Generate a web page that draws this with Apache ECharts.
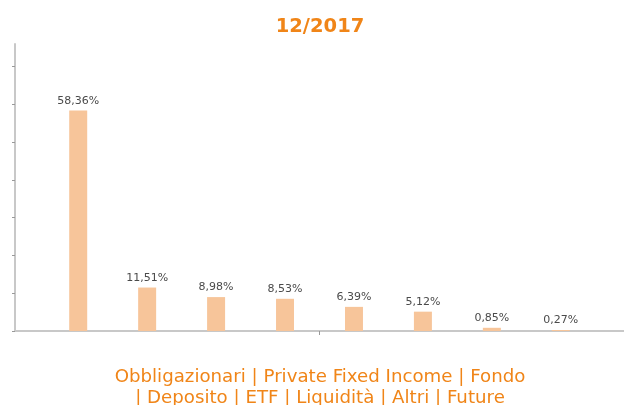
<!DOCTYPE html>
<html>
<head>
<meta charset="utf-8">
<script src="https://cdn.jsdelivr.net/npm/echarts@6/dist/echarts.min.js"></script>
<style>
  html, body { margin: 0; padding: 0; background: #fff; }
  #chart { width: 624px; height: 405px; }
</style>
</head>
<body>
<div id="chart"></div>
<script>
// dati
var categories = ['Obbligazionari', 'Private Fixed Income', 'Fondo', 'Deposito', 'ETF', 'Liquidità', 'Altri', 'Future'];
var values = [58.36, 11.51, 8.98, 8.53, 6.39, 5.12, 0.85, 0.27];
var yTicks = [0, 10, 20, 30, 40, 50, 60, 70];
var period = '12/2017';

var orange = '#f08518';
var barColor = '#f7c59a';

function fmt(v) {
    return v.toFixed(2).replace('.', ',') + '%';
}

var series = [];
for (var i = 0; i < categories.length; i++) {
    series.push({
        name: categories[i],
        type: 'bar',
        data: [values[i]],
        barWidth: 18,
        barGap: '283%',
        itemStyle: { color: barColor },
        label: {
            show: true,
            position: 'top',
            distance: 4,
            color: '#4a4a4a',
            fontFamily: 'DejaVu Sans',
            fontSize: 11,
            formatter: function (p) { return fmt(p.value); }
        },
        silent: true
    });
}

var myChart = echarts.init(document.getElementById('chart'));
var option = {
    animation: false,
    graphic: [{
        type: 'text',
        x: 320,
        y: 17,
        style: {
            text: period,
            fill: orange,
            font: 'bold 19.5px "DejaVu Sans"',
            textAlign: 'center',
            textVerticalAlign: 'top'
        }
    }, {
        type: 'text',
        x: 320,
        y: 367,
        style: {
            text: categories.slice(0, 3).join(' | ') + '\n| ' + categories.slice(3).join(' | '),
            fill: orange,
            font: '18.2px "DejaVu Sans"',
            lineHeight: 21,
            textAlign: 'center',
            textVerticalAlign: 'top'
        }
    }],
    grid: { left: 15, right: 0, top: 44, bottom: 74 },
    xAxis: {
        type: 'category',
        data: [''],
        axisLine: { lineStyle: { color: '#c8c8c8', width: 2 } },
        axisTick: { show: true, alignWithLabel: true, length: 4, lineStyle: { color: '#999' } },
        axisLabel: { show: false }
    },
    yAxis: {
        type: 'value',
        min: 0,
        max: 76,
        interval: 10,
        splitLine: { show: false },
        axisLine: { show: true, lineStyle: { color: '#c8c8c8', width: 2 } },
        axisTick: { show: true, length: 3, lineStyle: { color: '#999' }, customValues: yTicks },
        axisLabel: { show: false }
    },
    series: series
};
myChart.setOption(option);
</script>
</body>
</html>
